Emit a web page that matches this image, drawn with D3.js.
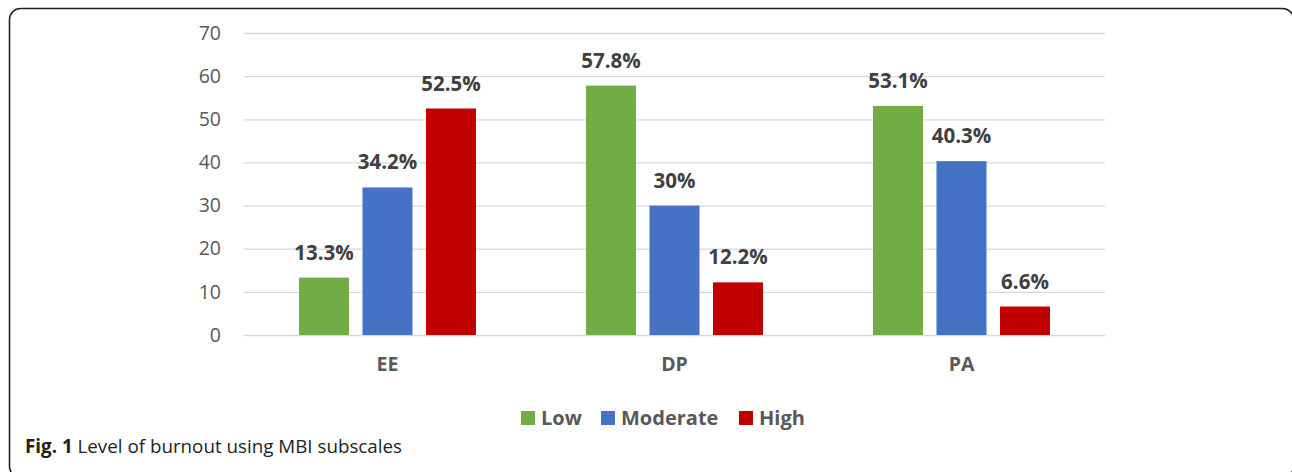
<!DOCTYPE html>
<html>
<head>
<meta charset="utf-8">
<script src="https://cdn.jsdelivr.net/npm/d3@7"></script>
<style>
  html, body { margin: 0; padding: 0; background: #fff; }
  svg { display: block; }
  text { font-family: "Open Sans", "Noto Sans", sans-serif; }
</style>
</head>
<body>
<svg id="chart" width="1292" height="472"></svg>
<script>
// Burnout level by MBI subscale (percent of respondents)
const categories = ["EE", "DP", "PA"];
const seriesNames = ["Low", "Moderate", "High"];
const lowValues = [13.3, 57.8, 53.1];
const moderateValues = [34.2, 30, 40.3];
const highValues = [52.5, 12.2, 6.6];
const yTicks = [0, 10, 20, 30, 40, 50, 60, 70];
const seriesColors = ["#70AD47", "#4472C4", "#C00000"];

const seriesValues = [lowValues, moderateValues, highValues];

const svg = d3.select("#chart");

// Figure frame (runs past the bottom and right edges of the view)
svg.append("rect")
  .attr("x", 9.5).attr("y", 8.5)
  .attr("width", 1284).attr("height", 469)
  .attr("rx", 11).attr("ry", 11)
  .attr("fill", "none")
  .attr("stroke", "#231f20")
  .attr("stroke-width", 1.6);

const plot = { left: 244, right: 1105, top: 33, bottom: 335 };

const y = d3.scaleLinear().domain([0, 70]).range([plot.bottom, plot.top]);
const x0 = d3.scaleBand().domain(categories).range([plot.left, plot.right]);
const x1 = d3.scaleBand().domain(seriesNames)
  .range([0, x0.bandwidth()])
  .paddingInner(0.2126)
  .paddingOuter(0.866);

// Gridlines
svg.append("g")
  .selectAll("line")
  .data(yTicks)
  .join("line")
  .attr("x1", plot.left).attr("x2", plot.right)
  .attr("y1", d => y(d) + 0.5).attr("y2", d => y(d) + 0.5)
  .attr("stroke", "#D9D9D9")
  .attr("stroke-width", 1.3);

// Y axis labels
const yAxis = d3.axisLeft(y).tickValues(yTicks).tickSize(0).tickPadding(0);
const yAxisG = svg.append("g")
  .attr("transform", `translate(${plot.left - 23},0)`)
  .call(yAxis);
yAxisG.select(".domain").remove();
yAxisG.selectAll("text")
  .attr("fill", "#595959")
  .style("font-size", "19.5px")
  .style("font-family", "'Open Sans', sans-serif");

// X axis labels
const xAxis = d3.axisBottom(x0).tickSize(0).tickPadding(0);
const xAxisG = svg.append("g")
  .attr("transform", `translate(0,${plot.bottom + 22})`)
  .call(xAxis);
xAxisG.select(".domain").remove();
xAxisG.selectAll("text")
  .attr("fill", "#595959")
  .style("font-size", "19.5px")
  .style("font-weight", "bold")
  .style("font-family", "'Open Sans', sans-serif");

// Bars and value labels
const rows = [];
categories.forEach((c, ci) => {
  seriesNames.forEach((s, si) => {
    rows.push({ cat: c, series: s, value: seriesValues[si][ci], color: seriesColors[si] });
  });
});

const groups = svg.append("g");
groups.selectAll("rect")
  .data(rows)
  .join("rect")
  .attr("x", d => x0(d.cat) + x1(d.series))
  .attr("y", d => y(d.value))
  .attr("width", x1.bandwidth())
  .attr("height", d => y(0) - y(d.value))
  .attr("fill", d => d.color);

groups.selectAll("text")
  .data(rows)
  .join("text")
  .attr("x", d => x0(d.cat) + x1(d.series) + x1.bandwidth() / 2)
  .attr("y", d => y(d.value) - 18)
  .attr("text-anchor", "middle")
  .attr("fill", "#404040")
  .style("font-size", "20.5px")
  .style("font-weight", "bold")
  .text(d => d.value + "%");

// Legend
const legendItems = [
  { name: "Low", x: 521, color: seriesColors[0] },
  { name: "Moderate", x: 601, color: seriesColors[1] },
  { name: "High", x: 739, color: seriesColors[2] }
];
const legend = svg.append("g");
legendItems.forEach(item => {
  legend.append("rect")
    .attr("x", item.x).attr("y", 411)
    .attr("width", 14).attr("height", 14)
    .attr("fill", item.color);
  legend.append("text")
    .attr("x", item.x + 20).attr("y", 425)
    .attr("fill", "#595959")
    .style("font-size", "20px")
    .style("font-weight", "bold")
    .text(item.name);
});

// Caption
const caption = svg.append("text")
  .attr("x", 25).attr("y", 453)
  .attr("fill", "#231f20")
  .style("font-size", "18.8px");
caption.append("tspan").style("font-weight", "bold").text("Fig. 1");
caption.append("tspan").text(" Level of burnout using MBI subscales");
</script>
</body>
</html>
